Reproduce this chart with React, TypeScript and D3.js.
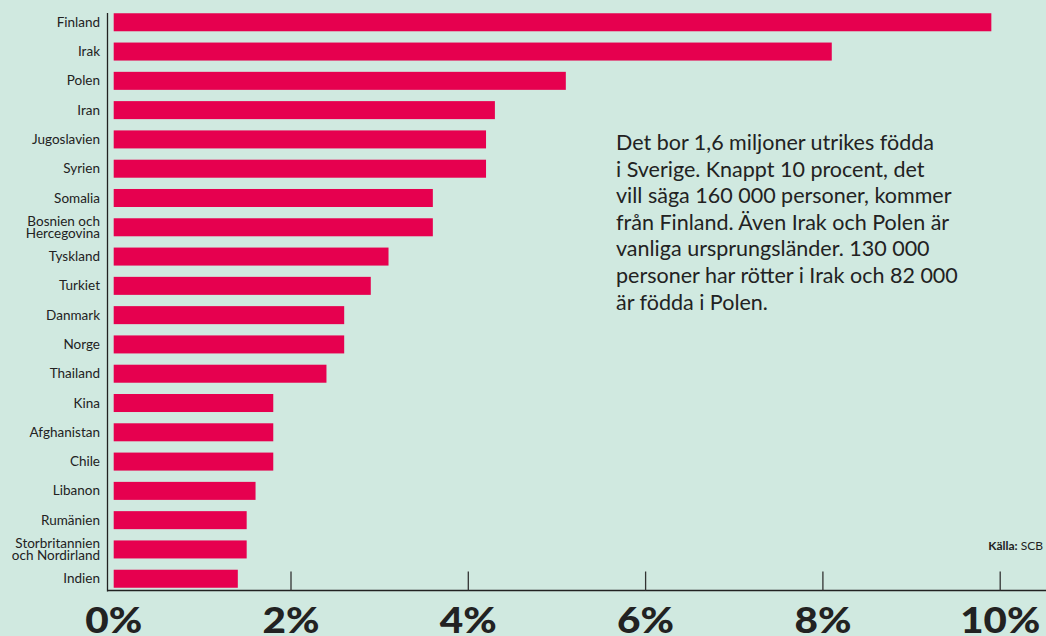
import React from "react";
import * as d3 from "d3";

const countries = [
  "Finland", "Irak", "Polen", "Iran", "Jugoslavien", "Syrien", "Somalia",
  "Bosnien och\nHercegovina", "Tyskland", "Turkiet", "Danmark", "Norge",
  "Thailand", "Kina", "Afghanistan", "Chile", "Libanon", "Rumänien",
  "Storbritannien\noch Nordirland", "Indien",
];
const shares = [9.9, 8.1, 5.1, 4.3, 4.2, 4.2, 3.6, 3.6, 3.1, 2.9, 2.6, 2.6, 2.4, 1.8, 1.8, 1.8, 1.6, 1.5, 1.5, 1.4];
const ticks = [0, 2, 4, 6, 8, 10];
const noteLines = [
  "Det bor 1,6 miljoner utrikes födda",
  "i Sverige. Knappt 10 procent, det",
  "vill säga 160 000 personer, kommer",
  "från Finland. Även Irak och Polen är",
  "vanliga ursprungsländer. 130 000",
  "personer har rötter i Irak och 82 000",
  "är födda i Polen.",
];

const W = 1046;
const H = 636;
const BG = "#d0e9e0";
const BAR = "#e6004f";
const INK = "#222222";

export default function App() {
  const x = d3.scaleLinear().domain([0, 10]).range([113.7, 1000.2]);
  const y = d3.scaleBand<string>().domain(countries).range([7.4, 593.6]).paddingInner(0.385).paddingOuter(0.2);
  const axisX = 107.5;
  const axisY = 590.5;
  return (
    <svg width={W} height={H} style={{ position: "fixed", left: 0, top: 0, display: "block" }}
      fontFamily="Lato, 'Open Sans', sans-serif">
      <rect x={0} y={0} width={W} height={H} fill={BG} />
      {countries.map((c, i) => (
        <rect key={c} x={x(0)} y={y(c)!} width={x(shares[i]) - x(0)} height={y.bandwidth()} fill={BAR} />
      ))}
      {countries.map((c) => {
        const lines = c.split("\n");
        const cy = y(c)! + y.bandwidth() / 2;
        const lh = 12;
        return (
          <text key={"l" + c} x={100} textAnchor="end" fontSize={13.5} fill={INK}>
            {lines.map((ln, j) => (
              <tspan key={j} x={100} y={cy + 4.6 + (j - (lines.length - 1) / 2) * lh}>{ln}</tspan>
            ))}
          </text>
        );
      })}
      <line x1={axisX} x2={axisX} y1={13} y2={axisY + 1} stroke={INK} strokeWidth={1.3} />
      <line x1={axisX} x2={W} y1={axisY} y2={axisY} stroke={INK} strokeWidth={1.6} />
      {ticks.filter((t) => t > 0).map((t) => (
        <line key={"t" + t} x1={x(t)} x2={x(t)} y1={571.5} y2={axisY} stroke="#333" strokeWidth={1.3} />
      ))}
      {ticks.map((t) => {
        const label = t + "%";
        return (
          <text key={"tl" + t} x={x(t)} y={633} textAnchor="middle" fontSize={36} fontWeight={900} fill={INK}
            textLength={label.length === 2 ? 57 : 80} lengthAdjust="spacingAndGlyphs">
            {label}
          </text>
        );
      })}
      <text x={616} fontSize={21.5} fill={INK}>
        {noteLines.map((ln, i) => (
          <tspan key={i} x={616} y={150 + i * 26.6}>{ln}</tspan>
        ))}
      </text>
      <text x={1043} y={550} textAnchor="end" fontSize={12} fill={INK}>
        <tspan fontWeight={700}>Källa:</tspan> SCB
      </text>
    </svg>
  );
}
